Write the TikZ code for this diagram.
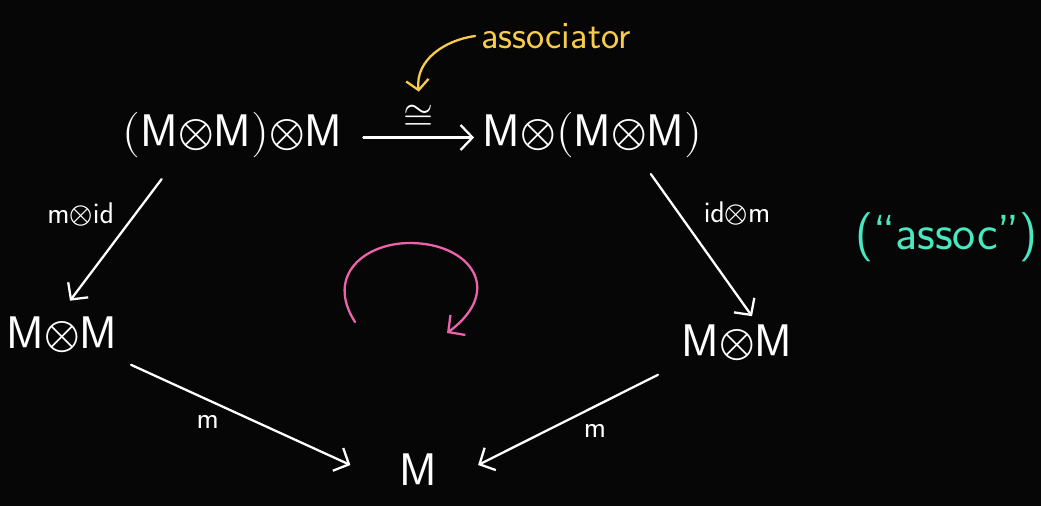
\documentclass[tikz,border=0pt]{standalone}
\usepackage{amsmath}
\usepackage{unicode-math}
\usetikzlibrary{arrows.meta}

\definecolor{boardbg}{RGB}{6,6,6}
\definecolor{noteyellow}{RGB}{247,204,76}
\definecolor{noteteal}{RGB}{72,232,192}
\definecolor{notepink}{RGB}{236,98,172}

\tikzset{
  obj/.style={text=white, font=\sffamily\fontsize{26}{28}\selectfont, inner sep=2pt},
  lbl/.style={text=white, font=\sffamily\fontsize{17}{19}\selectfont},
  mor/.style={draw=white, line width=1.3pt, line cap=round,
    -{Straight Barb[length=2.4mm,width=5mm,line width=1.3pt]}},
}

\begin{document}
\begin{tikzpicture}
    \fill[boardbg] (0,0) rectangle (20.82,-10.12);
    \useasboundingbox (0,0) rectangle (20.82,-10.12);

    % Objectes
    \node[obj] (lmm) at (4.65,-2.7) {$(\mathsf{M}{\otimes}\mathsf{M}){\otimes}\mathsf{M}$};
    \node[obj] (rmm) at (11.85,-2.7) {$\mathsf{M}{\otimes}(\mathsf{M}{\otimes}\mathsf{M})$};
    \node[obj] (mml) at (1.24,-6.7) {$\mathsf{M}{\otimes}\mathsf{M}$};
    \node[obj] (mmr) at (14.74,-6.86) {$\mathsf{M}{\otimes}\mathsf{M}$};
    \node[obj] (m) at (8.36,-9.4) {$\mathsf{M}$};

    % Fletxes
    \draw[mor] ([shift={(0.35,-0.05)}]lmm.east) -- ([shift={(-0.1,-0.05)}]rmm.west)
        node[midway, above=2pt, lbl, font=\fontsize{22}{24}\selectfont] (iso) {$\cong$};
    \draw[mor] ([shift={(0.85,-0.35)}]lmm.south west) -- ([shift={(0.16,0.25)}]mml.north)
        node[pos=0.29, left=8pt, lbl] {$\mathsf{m}{\otimes}\mathsf{id}$};
    \draw[mor] ([shift={(-1.1,-0.25)}]rmm.south east) -- ([shift={(0.3,0.1)}]mmr.north)
        node[pos=0.28, right=10pt, lbl] {$\mathsf{id}{\otimes}\mathsf{m}$};
    \draw[mor] ([shift={(0.2,-0.16)}]mml.south east) -- ([shift={(-0.9,0.1)}]m.west)
        node[pos=0.35, below=5pt, lbl] {$\mathsf{m}$};
    \draw[mor] ([shift={(-0.4,-0.2)}]mmr.south west) -- ([shift={(0.75,0.1)}]m.east)
        node[pos=0.35, below=6pt, lbl] {$\mathsf{m}$};

    % Associador
    \node[text=noteyellow, font=\sffamily\fontsize{22}{24}\selectfont] (assoc) at (11.12,-0.72) {associator};
    \draw[noteyellow, line width=1.3pt, line cap=round, -{Straight Barb[length=2mm,width=4.5mm,line width=1.3pt]}]
        (assoc.west) .. controls (8.9,-0.8) and (8.3,-1.2) .. ([yshift=4pt]iso.north);

    % Nota
    \node[text=noteteal, font=\sffamily\fontsize{28}{30}\selectfont] (note) at (18.93,-4.75) {(``assoc'')};

    % Gir
    \draw[notepink, line width=1.3pt, line cap=round, -{Straight Barb[length=2.4mm,width=5mm,line width=1.3pt]}]
        (7.1,-6.44) .. controls (6.5,-5.5) and (7.3,-4.86) .. (8.2,-4.86)
        .. controls (9.4,-4.86) and (10.1,-5.8) .. (8.94,-6.66);
\end{tikzpicture}
\end{document}
